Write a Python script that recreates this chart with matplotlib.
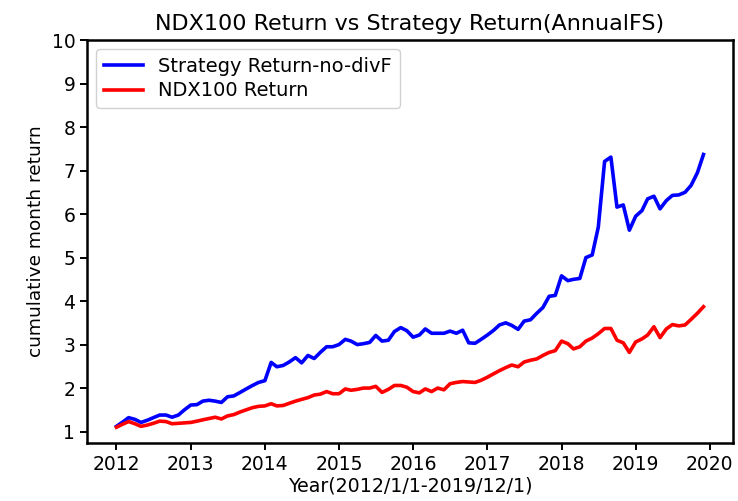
import numpy as np
import pandas as pd
import matplotlib
matplotlib.use("Agg")
import matplotlib.pyplot as plt

# monthly points, 2012/1/1 .. 2019/12/1
dates = pd.date_range("2012-01-01", "2019-12-01", freq="MS")

strategy_return = [
    1.12, 1.22, 1.32, 1.28, 1.21, 1.26, 1.32, 1.38, 1.38, 1.33, 1.38, 1.50,
    1.61, 1.62, 1.70, 1.72, 1.70, 1.67, 1.80, 1.82, 1.90, 1.98, 2.06, 2.13,
    2.17, 2.59, 2.49, 2.52, 2.60, 2.70, 2.58, 2.75, 2.68, 2.82, 2.95, 2.95,
    3.00, 3.12, 3.08, 3.00, 3.02, 3.05, 3.21, 3.08, 3.10, 3.30, 3.39, 3.32,
    3.17, 3.22, 3.36, 3.26, 3.26, 3.26, 3.31, 3.26, 3.33, 3.04, 3.03, 3.12,
    3.22, 3.33, 3.45, 3.50, 3.44, 3.35, 3.54, 3.57, 3.72, 3.85, 4.11, 4.13,
    4.58, 4.47, 4.50, 4.52, 5.00, 5.06, 5.70, 7.21, 7.31, 6.16, 6.21, 5.63,
    5.95, 6.08, 6.35, 6.41, 6.12, 6.31, 6.43, 6.44, 6.50, 6.66, 6.95, 7.37,
]

ndx_return = [
    1.10, 1.17, 1.23, 1.18, 1.12, 1.15, 1.19, 1.24, 1.23, 1.18, 1.19, 1.20,
    1.21, 1.24, 1.27, 1.30, 1.33, 1.29, 1.36, 1.39, 1.45, 1.50, 1.55, 1.58,
    1.59, 1.64, 1.59, 1.60, 1.65, 1.70, 1.74, 1.78, 1.84, 1.86, 1.92, 1.87,
    1.87, 1.98, 1.95, 1.97, 2.00, 2.00, 2.04, 1.90, 1.97, 2.06, 2.06, 2.02,
    1.92, 1.89, 1.98, 1.92, 2.00, 1.96, 2.10, 2.13, 2.15, 2.14, 2.13, 2.18,
    2.25, 2.33, 2.40, 2.47, 2.53, 2.49, 2.60, 2.64, 2.67, 2.75, 2.82, 2.86,
    3.08, 3.02, 2.90, 2.95, 3.08, 3.15, 3.25, 3.37, 3.37, 3.10, 3.04, 2.82,
    3.06, 3.13, 3.22, 3.41, 3.16, 3.36, 3.46, 3.43, 3.45, 3.58, 3.72, 3.87,
]

y_ticks = list(range(1, 11))

fig = plt.figure(figsize=(7.38, 5.01), dpi=100)
ax = fig.add_axes([0.118, 0.116, 0.875, 0.804])

ax.plot(dates, strategy_return, color="blue", linewidth=2.6,
        label="Strategy Return-no-divF")
ax.plot(dates, ndx_return, color="red", linewidth=2.6,
        label="NDX100 Return")

ax.set_yticks(y_ticks)
ax.set_ylim(0.74, 10)

ax.set_title("NDX100 Return vs Strategy Return(AnnualFS)", fontsize=16, pad=7)
ax.set_xlabel("Year(2012/1/1-2019/12/1)", fontsize=13.7, labelpad=2)
ax.set_ylabel("cumulative month return", fontsize=13.3, labelpad=5)
ax.tick_params(axis="both", labelsize=13.5, width=1.4, length=5)
for spine in ax.spines.values():
    spine.set_linewidth(1.8)

ax.legend(loc="upper left", fontsize=14, framealpha=0.9,
          edgecolor="#cccccc", labelspacing=0.3, borderaxespad=0.45)

fig.savefig("out.png", dpi=100)
